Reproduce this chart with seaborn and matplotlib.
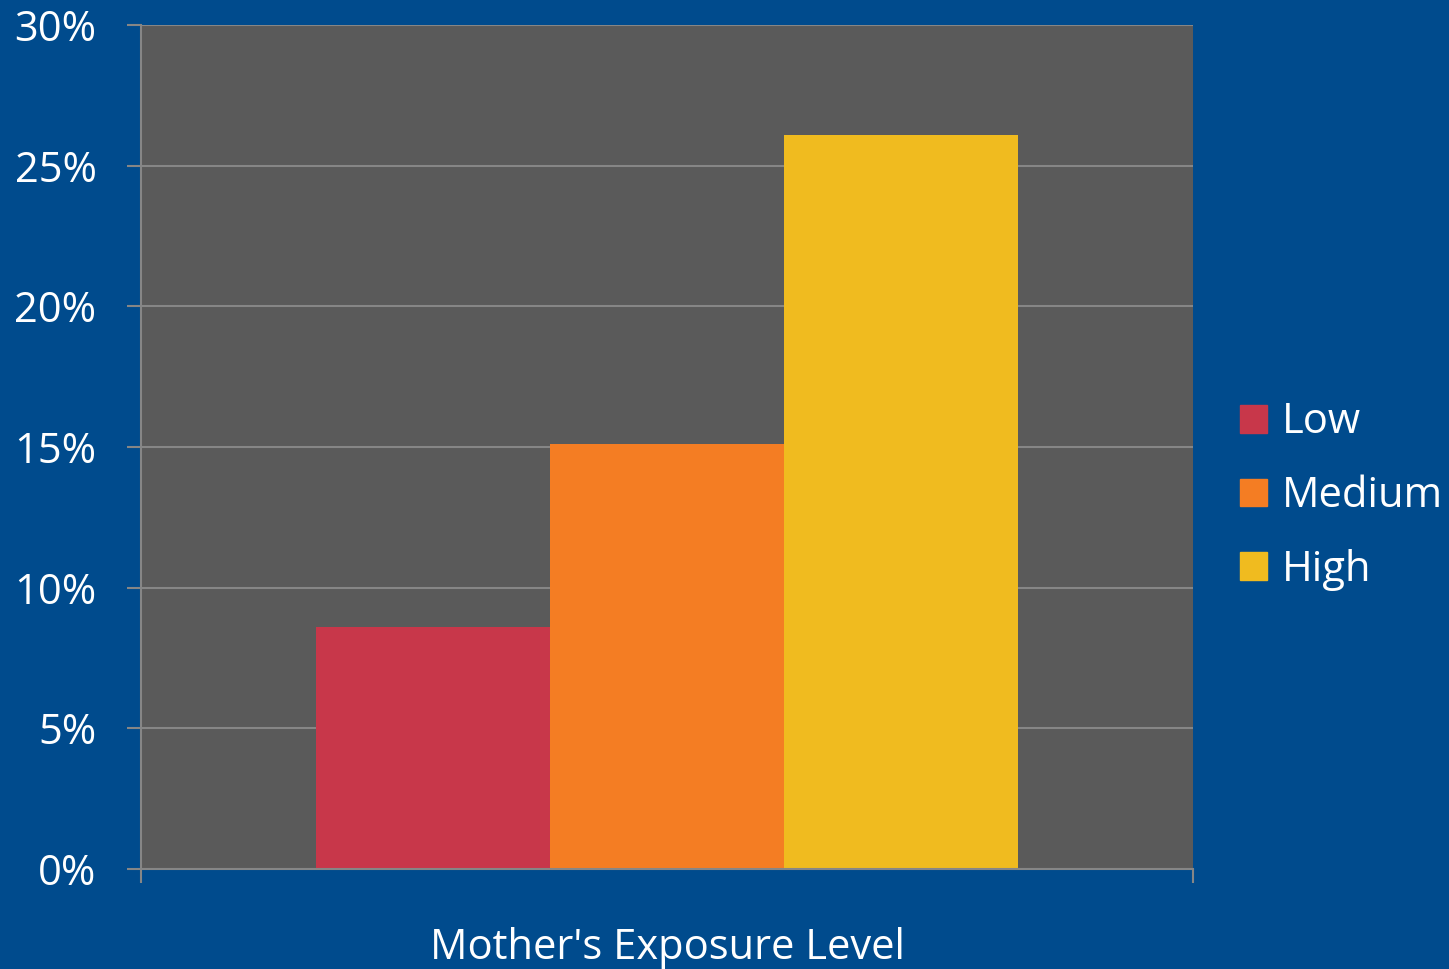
import numpy as np
import pandas as pd
import matplotlib
matplotlib.use("Agg")
import matplotlib.pyplot as plt
import seaborn as sns
from matplotlib.ticker import FuncFormatter, FixedLocator

sns.set_style("ticks")
plt.rcParams['font.family'] = ['Open Sans', 'DejaVu Sans']

# データ
category = ["Mother's Exposure Level"]
levels = ['Low', 'Medium', 'High']
values = [8.6, 15.1, 26.1]
colors = ['#c8374a', '#f47d23', '#f0bb1f']

df = pd.DataFrame({'cat': category * len(levels), 'level': levels, 'value': values})

bg = '#004b8d'
grid = '#868686'

fig = plt.figure(figsize=(14.49, 9.69), dpi=100, facecolor=bg)
ax = fig.add_axes([0.0973, 0.1032, 0.726, 0.871])
ax.set_facecolor('#5a5a5a')

sns.barplot(data=df, x='cat', y='value', hue='level', hue_order=levels,
            palette=colors, saturation=1, width=0.667, ax=ax, zorder=3,
            legend=False, linewidth=0)

ax.set_xlim(-0.5, 0.5)
ax.set_ylim(0, 30)
ax.set_yticks(np.arange(0, 31, 5))
ax.yaxis.set_major_formatter(FuncFormatter(lambda v, p: f'{v:.0f}%'))
ax.grid(axis='y', color=grid, linewidth=1.5, zorder=0)

# x軸: 両端に目盛り、カテゴリ名は中央
ax.xaxis.set_major_locator(FixedLocator([-0.5, 0.5]))
ax.set_xticklabels(['', ''])
ax.xaxis.set_minor_locator(FixedLocator([0]))
ax.set_xticklabels(category, minor=True)
ax.tick_params(axis='x', which='minor', length=0, pad=42, labelsize=30, labelcolor='white')
ax.tick_params(axis='x', which='major', length=10, width=1.5, color=grid)
ax.tick_params(axis='y', length=10, width=1.5, color=grid, labelsize=30,
               labelcolor='white', pad=22)
ax.set_xlabel('')
ax.set_ylabel('')

for s in ['top', 'right']:
    ax.spines[s].set_visible(False)
for s in ['left', 'bottom']:
    ax.spines[s].set_color(grid)
    ax.spines[s].set_linewidth(1.5)
    ax.spines[s].set_zorder(4)

handles = [plt.Rectangle((0, 0), 1, 1, color=c) for c in colors]
fig.legend(handles, levels, loc='center left', bbox_to_anchor=(0.856, 0.488),
           frameon=False, fontsize=30, labelcolor='white',
           handlelength=0.65, handleheight=0.65, handletextpad=0.34,
           labelspacing=0.76, borderaxespad=0, borderpad=0)

fig.savefig('out.png', dpi=100, facecolor=bg)
